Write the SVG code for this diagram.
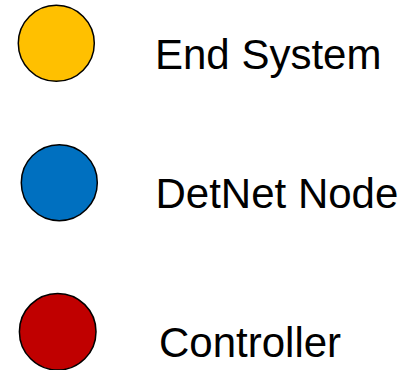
<svg xmlns="http://www.w3.org/2000/svg" width="418" height="370" viewBox="0 0 418 370">
<style>
.n{stroke:#000;stroke-width:1.5}
.t{font-family:"Liberation Sans",Arial,sans-serif;font-size:42px;fill:#000}
</style>
<rect width="418" height="370" fill="#fff"/>
<g id="end-system">
<circle class="n" cx="56.3" cy="43.3" r="38" fill="#FFC000"/>
<text class="t" x="155" y="69.3">End System</text>
</g>
<g id="detnet-node">
<circle class="n" cx="59.3" cy="182.7" r="38" fill="#0070C0"/>
<text class="t" x="155.5" y="208.3">DetNet Node</text>
</g>
<g id="controller">
<circle class="n" cx="57.7" cy="331.7" r="38.3" fill="#C00000"/>
<text class="t" x="159" y="356.7">Controller</text>
</g>
<g id="connectors"></g>
</svg>
